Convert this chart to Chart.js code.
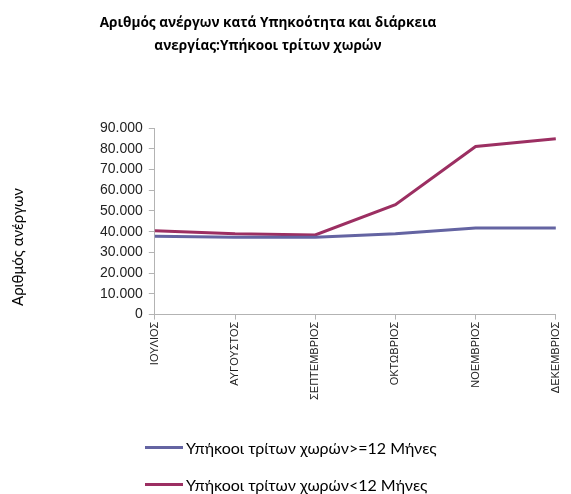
<!DOCTYPE html>
<html>
<head>
<meta charset="utf-8">
<script src="https://cdn.jsdelivr.net/npm/chart.js@4"></script>
<style>
  html, body { margin: 0; padding: 0; background: #fff; }
  #wrap { position: relative; width: 571px; height: 494px; }
  #title {
    position: absolute; left: 268px; top: 10px; transform: translateX(-50%);
    font: bold 13.6px "Open Sans", sans-serif; line-height: 23px; color: #000;
    text-align: center; white-space: nowrap;
  }
  #yTitle {
    position: absolute; left: 17px; top: 247px;
    transform: translate(-50%, -50%) rotate(-90deg);
    font: 15px Lato, sans-serif; color: #000; white-space: nowrap;
  }
  #legend { position: absolute; left: 145px; top: 434px; font: 16px Lato, sans-serif; color: #000; }
  .item { display: flex; align-items: center; height: 26px; margin-bottom: 11px; white-space: nowrap; }
  .swatch { width: 38px; height: 3px; margin-right: 3px; }
</style>
</head>
<body>
<div id="wrap">
  <canvas id="chart" width="571" height="494"></canvas>
  <div id="title">Αριθμός ανέργων κατά Υπηκοότητα και διάρκεια<br>ανεργίας:Υπήκοοι τρίτων χωρών</div>
  <div id="yTitle">Αριθμός ανέργων</div>
  <div id="legend"></div>
</div>
<script>
const months = ["ΙΟΥΛΙΟΣ", "ΑΥΓΟΥΣΤΟΣ", "ΣΕΠΤΕΜΒΡΙΟΣ", "ΟΚΤΩΒΡΙΟΣ", "ΝΟΕΜΒΡΙΟΣ", "ΔΕΚΕΜΒΡΙΟΣ"];
const longTerm = [37800, 37300, 37300, 39000, 41800, 41800];   // >=12 months
const shortTerm = [40500, 39000, 38400, 53000, 81100, 84800];  // <12 months
const seriesNames = ["Υπήκοοι τρίτων χωρών>=12 Μήνες", "Υπήκοοι τρίτων χωρών<12 Μήνες"];
const seriesColors = ["#6464a2", "#9c2f62"];

const axisGray = "#b3b3b3";

const chart = new Chart(document.getElementById("chart"), {
  type: "line",
  data: {
    labels: months,
    datasets: [
      { label: seriesNames[0], data: longTerm, borderColor: seriesColors[0], backgroundColor: seriesColors[0], borderWidth: 3, pointRadius: 0, tension: 0 },
      { label: seriesNames[1], data: shortTerm, borderColor: seriesColors[1], backgroundColor: seriesColors[1], borderWidth: 3, pointRadius: 0, tension: 0 }
    ]
  },
  options: {
    responsive: false,
    animation: false,
    layout: { padding: { left: 94, right: 4, top: 128, bottom: 92 } },
    plugins: {
      legend: { display: false },
      tooltip: { enabled: false },
      title: { display: false }
    },
    scales: {
      x: {
        offset: false,
        grid: { display: true, drawOnChartArea: false, offset: false, color: axisGray, tickLength: 5 },
        border: { color: axisGray },
        ticks: { minRotation: 90, maxRotation: 90, color: "#222", font: { family: "Liberation Sans", size: 11 }, padding: 2 }
      },
      y: {
        min: 0,
        max: 90000,
        grid: { display: true, drawOnChartArea: false, color: axisGray, tickLength: 6 },
        border: { color: axisGray },
        ticks: {
          stepSize: 10000,
          color: "#222",
          font: { family: "Liberation Sans", size: 14 },
          padding: 6,
          callback: v => v.toString().replace(/\B(?=(\d{3})+(?!\d))/g, ".")
        }
      }
    }
  }
});

// legend stacked on the left, one row per series
const legend = document.getElementById("legend");
chart.data.datasets.forEach(ds => {
  const row = document.createElement("div");
  row.className = "item";
  const sw = document.createElement("span");
  sw.className = "swatch";
  sw.style.background = ds.borderColor;
  row.appendChild(sw);
  row.appendChild(document.createTextNode(ds.label));
  legend.appendChild(row);
});
</script>
</body>
</html>
